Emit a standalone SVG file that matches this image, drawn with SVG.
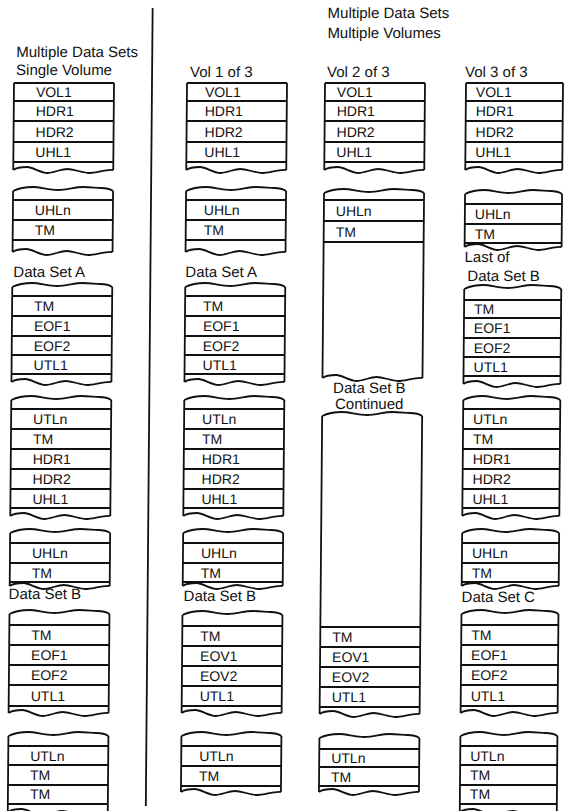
<svg xmlns="http://www.w3.org/2000/svg" xmlns:xlink="http://www.w3.org/1999/xlink" width="565" height="811" viewBox="0 0 565 811">
<style>
.b{fill:none;stroke:#111;stroke-width:1.8}
.t{font-family:"Liberation Sans",Arial,sans-serif;font-size:14px;fill:#111}
.h{font-family:"Liberation Sans",Arial,sans-serif;font-size:15px;fill:#111}
</style>
<defs>
<path id="wt" d="M0,0 C6,-3 13,-4 20,-4 S36,-1 45,-1 S62,-4 70,-4 S83,-3 88,-3 S97,-2 100,0"/>
<path id="wb" d="M0,0 C4,-3 9,-3 14,-3 S28,3 34,3 S48,-1 54,-1 S70,3 76,3 S94,-1 100,0"/>
</defs>
<rect width="565" height="811" fill="#fff"/>
<g transform="translate(0.71,0) skewX(-0.49)">
<g id="connectors">
<line class="b" x1="152" y1="8" x2="152" y2="806" stroke-width="2"/>
</g>
<g id="headers">
<text class="h" x="16" y="57">Multiple Data Sets</text>
<text class="h" x="16" y="75">Single Volume</text>
<text class="h" x="327" y="18">Multiple Data Sets</text>
<text class="h" x="327" y="38">Multiple Volumes</text>
<text class="h" x="190" y="77">Vol 1 of 3</text>
<text class="h" x="327" y="77">Vol 2 of 3</text>
<text class="h" x="465" y="77">Vol 3 of 3</text>
</g>

<!-- Column 1 -->
<g id="c1b1">
<path class="b" d="M14,83H114M14,83V170M114,83V170M14,101H114M14,121H114M14,142H114M14,162H114"/>
<use href="#wb" class="b" transform="translate(14,170)"/>
<text class="t" x="36" y="97">VOL1</text><text class="t" x="36" y="116">HDR1</text><text class="t" x="36" y="137">HDR2</text><text class="t" x="36" y="157">UHL1</text>
</g>
<g id="c1b2">
<use href="#wt" class="b" transform="translate(14,191)"/>
<path class="b" d="M14,191V252M114,191V252M14,200H114M14,220H114M14,240H114"/>
<use href="#wb" class="b" transform="translate(14,252)"/>
<text class="t" x="36" y="215">UHLn</text><text class="t" x="36" y="235">TM</text>
</g>
<text class="h" x="15" y="277">Data Set A</text>
<g id="c1b3">
<use href="#wt" class="b" transform="translate(14,287)"/>
<path class="b" d="M14,287V382M114,287V382M14,296H114M14,316H114M14,336H114M14,355H114M14,374H114"/>
<use href="#wb" class="b" transform="translate(14,382)"/>
<text class="t" x="36" y="311">TM</text><text class="t" x="36" y="331">EOF1</text><text class="t" x="36" y="351">EOF2</text><text class="t" x="36" y="370">UTL1</text>
</g>
<g id="c1b4">
<use href="#wt" class="b" transform="translate(14,400)"/>
<path class="b" d="M14,400V516M114,400V516M14,409H114M14,429H114M14,449H114M14,469H114M14,489H114M14,508H114"/>
<use href="#wb" class="b" transform="translate(14,516)"/>
<text class="t" x="36" y="424">UTLn</text><text class="t" x="36" y="444">TM</text><text class="t" x="36" y="464">HDR1</text><text class="t" x="36" y="484">HDR2</text><text class="t" x="36" y="504">UHL1</text>
</g>
<g id="c1b5">
<use href="#wt" class="b" transform="translate(14,533)"/>
<path class="b" d="M14,533V586M114,533V586M14,543H114M14,563H114M14,582H114"/>
<use href="#wb" class="b" transform="translate(14,586)"/>
<text class="t" x="36" y="558">UHLn</text><text class="t" x="36" y="578">TM</text>
</g>
<text class="h" x="13" y="599">Data Set B</text>
<g id="c1b6">
<use href="#wt" class="b" transform="translate(14,614)"/>
<path class="b" d="M14,614V713M114,614V713M14,625H114M14,645H114M14,665H114M14,685H114M14,706H114"/>
<use href="#wb" class="b" transform="translate(14,713)"/>
<text class="t" x="36" y="640">TM</text><text class="t" x="36" y="660">EOF1</text><text class="t" x="36" y="680">EOF2</text><text class="t" x="36" y="701">UTL1</text>
</g>
<g id="c1b7">
<use href="#wt" class="b" transform="translate(14,736)"/>
<path class="b" d="M14,736V812M114,736V812M14,746H114M14,765H114M14,785H114M14,804H114"/>
<use href="#wb" class="b" transform="translate(14,812)"/>
<text class="t" x="36" y="761">UTLn</text><text class="t" x="36" y="780">TM</text><text class="t" x="36" y="799">TM</text>
</g>

<!-- Column 2 -->
<g id="c2b1">
<path class="b" d="M187,83H287M187,83V170M287,83V170M187,101H287M187,121H287M187,142H287M187,162H287"/>
<use href="#wb" class="b" transform="translate(187,170)"/>
<text class="t" x="205" y="97">VOL1</text><text class="t" x="205" y="116">HDR1</text><text class="t" x="205" y="137">HDR2</text><text class="t" x="205" y="157">UHL1</text>
</g>
<g id="c2b2">
<use href="#wt" class="b" transform="translate(187,191)"/>
<path class="b" d="M187,191V252M287,191V252M187,200H287M187,220H287M187,240H287"/>
<use href="#wb" class="b" transform="translate(187,252)"/>
<text class="t" x="205" y="215">UHLn</text><text class="t" x="205" y="235">TM</text>
</g>
<text class="h" x="187" y="277">Data Set A</text>
<g id="c2b3">
<use href="#wt" class="b" transform="translate(187,287)"/>
<path class="b" d="M187,287V382M287,287V382M187,296H287M187,316H287M187,336H287M187,355H287M187,374H287"/>
<use href="#wb" class="b" transform="translate(187,382)"/>
<text class="t" x="205" y="311">TM</text><text class="t" x="205" y="331">EOF1</text><text class="t" x="205" y="351">EOF2</text><text class="t" x="205" y="370">UTL1</text>
</g>
<g id="c2b4">
<use href="#wt" class="b" transform="translate(187,400)"/>
<path class="b" d="M187,400V516M287,400V516M187,409H287M187,429H287M187,449H287M187,469H287M187,489H287M187,508H287"/>
<use href="#wb" class="b" transform="translate(187,516)"/>
<text class="t" x="205" y="424">UTLn</text><text class="t" x="205" y="444">TM</text><text class="t" x="205" y="464">HDR1</text><text class="t" x="205" y="484">HDR2</text><text class="t" x="205" y="504">UHL1</text>
</g>
<g id="c2b5">
<use href="#wt" class="b" transform="translate(187,533)"/>
<path class="b" d="M187,533V586M287,533V586M187,543H287M187,563H287M187,582H287"/>
<use href="#wb" class="b" transform="translate(187,586)"/>
<text class="t" x="205" y="558">UHLn</text><text class="t" x="205" y="578">TM</text>
</g>
<text class="h" x="188" y="601">Data Set B</text>
<g id="c2b6">
<use href="#wt" class="b" transform="translate(187,615)"/>
<path class="b" d="M187,615V713M287,615V713M187,626H287M187,646H287M187,666H287M187,686H287M187,706H287"/>
<use href="#wb" class="b" transform="translate(187,713)"/>
<text class="t" x="205" y="641">TM</text><text class="t" x="205" y="661">EOV1</text><text class="t" x="205" y="681">EOV2</text><text class="t" x="205" y="701">UTL1</text>
</g>
<g id="c2b7">
<use href="#wt" class="b" transform="translate(187,736)"/>
<path class="b" d="M187,736V792M287,736V792M187,746H287M187,766H287M187,786H287"/>
<use href="#wb" class="b" transform="translate(187,792)"/>
<text class="t" x="205" y="761">UTLn</text><text class="t" x="205" y="781">TM</text>
</g>

<!-- Column 3 -->
<g id="c3b1">
<path class="b" d="M325,83H425M325,83V170M425,83V170M325,101H425M325,121H425M325,142H425M325,162H425"/>
<use href="#wb" class="b" transform="translate(325,170)"/>
<text class="t" x="337" y="97">VOL1</text><text class="t" x="337" y="116">HDR1</text><text class="t" x="337" y="137">HDR2</text><text class="t" x="337" y="157">UHL1</text>
</g>
<g id="c3b2">
<use href="#wt" class="b" transform="translate(325,193)"/>
<path class="b" d="M325,193V378M425,193V378M325,200H425M325,221H425M325,242H425"/>
<use href="#wb" class="b" transform="translate(325,378)"/>
<text class="t" x="337" y="216">UHLn</text><text class="t" x="337" y="237">TM</text>
</g>
<text class="h" x="372" y="393" text-anchor="middle">Data Set B</text>
<text class="h" x="372" y="409" text-anchor="middle">Continued</text>
<g id="c3b3">
<use href="#wt" class="b" transform="translate(325,416)"/>
<path class="b" d="M325,416V714M425,416V714M325,627H425M325,647H425M325,667H425M325,687H425M325,707H425"/>
<use href="#wb" class="b" transform="translate(325,714)"/>
<text class="t" x="337" y="642">TM</text><text class="t" x="337" y="662">EOV1</text><text class="t" x="337" y="682">EOV2</text><text class="t" x="337" y="702">UTL1</text>
</g>
<g id="c3b7">
<use href="#wt" class="b" transform="translate(325,738)"/>
<path class="b" d="M325,738V792M425,738V792M325,749H425M325,767H425M325,786H425"/>
<use href="#wb" class="b" transform="translate(325,792)"/>
<text class="t" x="337" y="763">UTLn</text><text class="t" x="337" y="782">TM</text>
</g>

<!-- Column 4 -->
<g id="c4b1">
<path class="b" d="M466,83H563M466,83V170M563,83V170M466,101H563M466,121H563M466,142H563M466,162H563"/>
<use href="#wb" class="b" transform="translate(466,170) scale(0.97,1)"/>
<text class="t" x="476" y="97">VOL1</text><text class="t" x="476" y="116">HDR1</text><text class="t" x="476" y="137">HDR2</text><text class="t" x="476" y="157">UHL1</text>
</g>
<g id="c4b2">
<use href="#wt" class="b" transform="translate(466,194) scale(0.97,1)"/>
<path class="b" d="M466,194V247M563,194V247M466,204H563M466,224H563M466,243H563"/>
<use href="#wb" class="b" transform="translate(466,247) scale(0.97,1)"/>
<text class="t" x="476" y="219">UHLn</text><text class="t" x="476" y="239">TM</text>
</g>
<text class="h" x="466" y="262">Last of</text>
<text class="h" x="469" y="281">Data Set B</text>
<g id="c4b3">
<use href="#wt" class="b" transform="translate(466,289) scale(0.97,1)"/>
<path class="b" d="M466,289V384M563,289V384M466,300H563M466,318H563M466,338H563M466,357H563M466,376H563"/>
<use href="#wb" class="b" transform="translate(466,384) scale(0.97,1)"/>
<text class="t" x="476" y="314">TM</text><text class="t" x="476" y="333">EOF1</text><text class="t" x="476" y="353">EOF2</text><text class="t" x="476" y="372">UTL1</text>
</g>
<g id="c4b4">
<use href="#wt" class="b" transform="translate(466,400) scale(0.97,1)"/>
<path class="b" d="M466,400V516M563,400V516M466,409H563M466,429H563M466,449H563M466,469H563M466,489H563M466,508H563"/>
<use href="#wb" class="b" transform="translate(466,516) scale(0.97,1)"/>
<text class="t" x="476" y="424">UTLn</text><text class="t" x="476" y="444">TM</text><text class="t" x="476" y="464">HDR1</text><text class="t" x="476" y="484">HDR2</text><text class="t" x="476" y="504">UHL1</text>
</g>
<g id="c4b5">
<use href="#wt" class="b" transform="translate(466,533) scale(0.97,1)"/>
<path class="b" d="M466,533V586M563,533V586M466,543H563M466,563H563M466,582H563"/>
<use href="#wb" class="b" transform="translate(466,586) scale(0.97,1)"/>
<text class="t" x="476" y="558">UHLn</text><text class="t" x="476" y="578">TM</text>
</g>
<text class="h" x="466" y="602">Data Set C</text>
<g id="c4b6">
<use href="#wt" class="b" transform="translate(466,614) scale(0.97,1)"/>
<path class="b" d="M466,614V713M563,614V713M466,625H563M466,645H563M466,665H563M466,685H563M466,706H563"/>
<use href="#wb" class="b" transform="translate(466,713) scale(0.97,1)"/>
<text class="t" x="476" y="640">TM</text><text class="t" x="476" y="660">EOF1</text><text class="t" x="476" y="680">EOF2</text><text class="t" x="476" y="701">UTL1</text>
</g>
<g id="c4b7">
<use href="#wt" class="b" transform="translate(466,736) scale(0.97,1)"/>
<path class="b" d="M466,736V812M563,736V812M466,746H563M466,765H563M466,785H563M466,804H563"/>
<use href="#wb" class="b" transform="translate(466,812) scale(0.97,1)"/>
<text class="t" x="476" y="761">UTLn</text><text class="t" x="476" y="780">TM</text><text class="t" x="476" y="799">TM</text>
</g>
</g>
</svg>
